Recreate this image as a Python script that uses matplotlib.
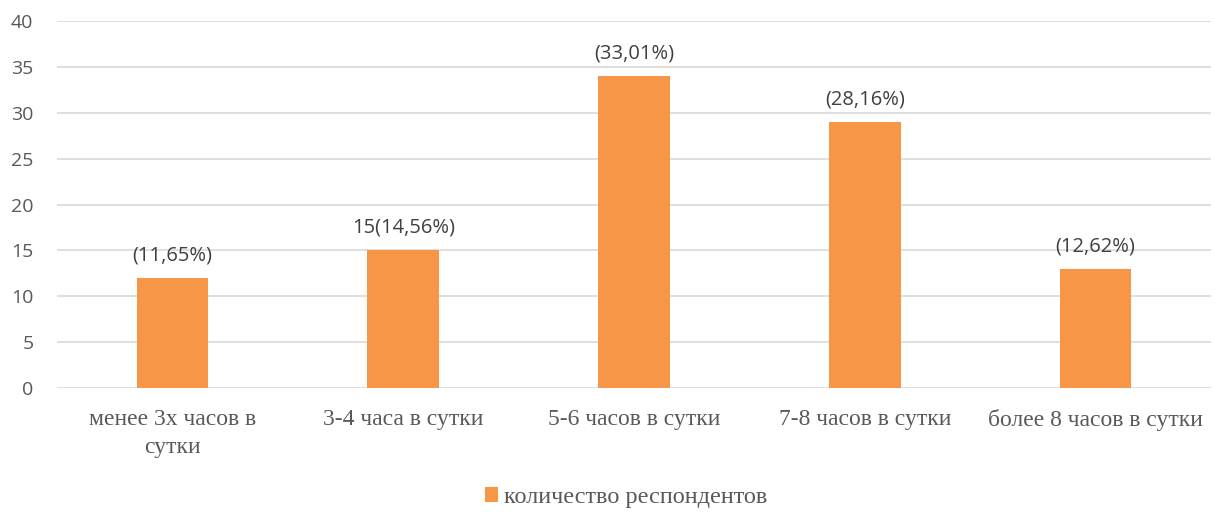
import matplotlib
matplotlib.use("Agg")
import matplotlib.pyplot as plt

categories = ["менее 3х часов в\nсутки", "3-4 часа в сутки", "5-6 часов в сутки",
              "7-8 часов в сутки", "более 8 часов в сутки"]
values = [12, 15, 34, 29, 13]
bar_labels = ["(11,65%)", "15(14,56%)", "(33,01%)", "(28,16%)", "(12,62%)"]
series_name = "количество респондентов"

bar_color = "#F79646"
text_color = "#595959"
sans = ["Open Sans", "DejaVu Sans"]
serif = ["Liberation Serif", "DejaVu Serif"]

fig = plt.figure(figsize=(12.14, 5.12), dpi=100)
ax = fig.add_axes([0.047, 0.242, 0.9505, 0.717])

x = range(len(categories))
bars = ax.bar(x, values, width=0.31, color=bar_color, label=series_name, zorder=3)

for rect, lab in zip(bars, bar_labels):
    ax.annotate(lab, (rect.get_x() + rect.get_width() / 2, rect.get_height()),
                xytext=(0, 9), textcoords="offset points", ha="center", va="bottom",
                fontsize=14.5, color="#404040", family=sans)

ax.set_xlim(-0.5, len(categories) - 0.5)
ax.set_ylim(0, 40)
ax.set_yticks(range(0, 41, 5))
ax.grid(axis="y", color="#D9D9D9", linewidth=1.2, zorder=0)
for s in ax.spines.values():
    s.set_visible(False)
ax.tick_params(axis="both", length=0)
ax.tick_params(axis="y", pad=17)
ax.tick_params(axis="x", pad=15)

ax.set_xticks(list(x))
ax.set_xticklabels(categories, fontsize=17, color=text_color, family=serif, linespacing=1.45)
for t in ax.get_yticklabels():
    t.set_fontsize(14)
    t.set_color(text_color)
    t.set_family(sans)

leg = fig.legend(loc="lower center", bbox_to_anchor=(0.516, -0.035), frameon=False,
                 prop={"family": serif, "size": 17.5}, handlelength=0.55, handleheight=0.55,
                 handletextpad=0.25)
for t in leg.get_texts():
    t.set_color(text_color)

fig.savefig("out.png", dpi=100)
